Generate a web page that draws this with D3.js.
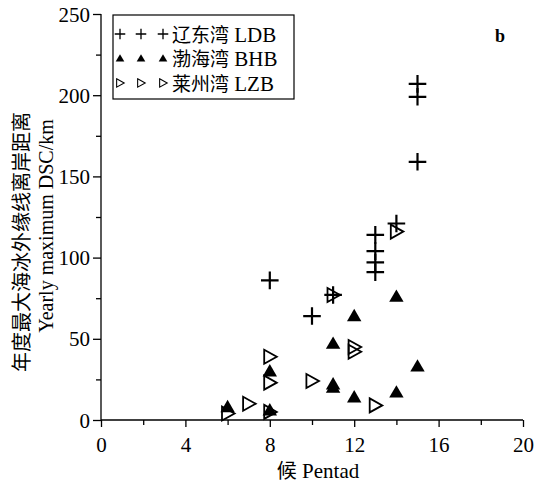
<!DOCTYPE html>
<html>
<head>
<meta charset="utf-8">
<script src="https://cdn.jsdelivr.net/npm/d3@7"></script>
<style>
  body { margin: 0; background: #fff; }
  svg text { font-family: "Liberation Serif", "Times New Roman", serif; fill: #000; }
  .cjk { font-family: "Noto Sans CJK SC", sans-serif; }
</style>
</head>
<body>
<div id="chart"></div>
<script>
const width = 546, height = 483;
const margin = { top: 14, right: 23, bottom: 63, left: 101 };

// pentad, yearly maximum DSC (km)
const ldbPoints = [
    [8, 86], [10, 64], [11, 77], [13, 114], [13, 104], [13, 97], [13, 91],
    [14, 121], [15, 207], [15, 199], [15, 159]
];
const bhbPoints = [
    [6, 8], [8, 30], [8, 6], [11, 47], [11, 22], [11, 20], [12, 64], [12, 14],
    [14, 76], [14, 17], [15, 33]
];
const lzbPoints = [
    [6, 4], [7, 10], [8, 39], [8, 23], [8, 5], [10, 24], [11, 77], [12, 45],
    [12, 42], [13, 9], [14, 116]
];
const xTicks = [0, 4, 8, 12, 16, 20];
const yTicks = [0, 50, 100, 150, 200, 250];
const legendLabels = ["辽东湾", "渤海湾", "莱州湾"];
const legendCodes = ["LDB", "BHB", "LZB"];

const svg = d3.select("#chart")
    .append("svg")
    .attr("width", width)
    .attr("height", height);

const xScale = d3.scaleLinear()
    .domain([0, 20])
    .range([margin.left, width - margin.right]);

const yScale = d3.scaleLinear()
    .domain([0, 250])
    .range([height - margin.bottom, margin.top]);

// axes: major ticks with labels, minor ticks between
const xAxis = svg.append("g")
    .attr("transform", `translate(0,${height - margin.bottom})`)
    .call(d3.axisBottom(xScale).tickValues(d3.range(0, 21, 2)).tickSize(5)
        .tickFormat(d => xTicks.includes(d) ? d : ""));

const yAxis = svg.append("g")
    .attr("transform", `translate(${margin.left},0)`)
    .call(d3.axisLeft(yScale).tickValues(d3.range(0, 251, 25)).tickSize(5)
        .tickFormat(d => yTicks.includes(d) ? d : ""));

[xAxis, yAxis].forEach(a => {
    a.select(".domain").attr("d", null);
    a.selectAll("line").attr("stroke", "#000").attr("stroke-width", 1.3);
    a.selectAll("text").style("font-size", "21px").attr("fill", "#000");
});
// major ticks a little longer than minor ones
xAxis.selectAll(".tick line").attr("y2", d => xTicks.includes(d) ? 7 : 5);
yAxis.selectAll(".tick line").attr("x2", d => yTicks.includes(d) ? -8 : -5);
xAxis.selectAll("text").attr("y", 13).attr("dy", "0.9em");
yAxis.selectAll("text").attr("x", -11).attr("dy", "0.34em");

svg.append("line")
    .attr("x1", margin.left).attr("x2", width - margin.right)
    .attr("y1", height - margin.bottom).attr("y2", height - margin.bottom)
    .attr("stroke", "#000").attr("stroke-width", 1.3);
svg.append("line")
    .attr("x1", margin.left).attr("x2", margin.left)
    .attr("y1", margin.top).attr("y2", height - margin.bottom)
    .attr("stroke", "#000").attr("stroke-width", 1.3);

// marker shapes
function crossPath(s) {
    return `M${-s},0H${s}M0,${-s}V${s}`;
}
function upTriangle(s) {
    return `M0,${-s}L${s},${s * 0.72}L${-s},${s * 0.72}Z`;
}
function rightTriangle(s) {
    return `M${-s * 0.8},${-s}L${s},0L${-s * 0.8},${s}Z`;
}

function drawMarker(g, type, x, y) {
    const m = g.append("path").attr("transform", `translate(${x},${y})`);
    if (type === "ldb") {
        m.attr("d", crossPath(8.8)).attr("stroke", "#000").attr("stroke-width", 2.2).attr("fill", "none");
    } else if (type === "bhb") {
        m.attr("d", upTriangle(7.2)).attr("fill", "#000");
    } else {
        m.attr("d", rightTriangle(7)).attr("stroke", "#000").attr("stroke-width", 1.8)
            .attr("fill", "none").attr("stroke-linejoin", "miter");
    }
}

const pts = svg.append("g");
lzbPoints.forEach(d => drawMarker(pts, "lzb", xScale(d[0]), yScale(d[1])));
bhbPoints.forEach(d => drawMarker(pts, "bhb", xScale(d[0]), yScale(d[1])));
ldbPoints.forEach(d => drawMarker(pts, "ldb", xScale(d[0]), yScale(d[1])));

// legend
const legend = svg.append("g");
legend.append("rect")
    .attr("x", 113).attr("y", 15).attr("width", 181).attr("height", 84)
    .attr("fill", "#fff").attr("stroke", "#000").attr("stroke-width", 1.2);
["ldb", "bhb", "lzb"].forEach((type, i) => {
    const y = 34 + i * 24.5;
    [120, 141, 163].forEach(x => {
        const g = legend.append("g").attr("transform", `translate(${x},${y}) scale(0.6)`);
        drawMarker(g, type, 0, 0);
    });
    const t = legend.append("text").attr("x", 172).attr("y", y).attr("dy", "0.36em")
        .style("font-size", "21px");
    t.append("tspan").attr("class", "cjk").style("font-size", "19px").text(legendLabels[i]);
    t.append("tspan").text(" " + legendCodes[i]);
});

// panel label
svg.append("text")
    .attr("x", 495).attr("y", 42)
    .style("font-size", "18px").style("font-weight", "bold")
    .text("b");

// axis titles
svg.append("text")
    .attr("x", 318)
    .attr("y", 478)
    .attr("text-anchor", "middle")
    .style("font-size", "21px")
    .call(t => {
        t.append("tspan").attr("class", "cjk").style("font-size", "20px").text("候");
        t.append("tspan").text(" Pentad");
    });

svg.append("text")
    .attr("transform", "translate(29,242) rotate(-90)")
    .attr("text-anchor", "middle")
    .attr("class", "cjk")
    .style("font-size", "20px")
    .text("年度最大海冰外缘线离岸距离");

svg.append("text")
    .attr("transform", "translate(53,226) rotate(-90)")
    .attr("text-anchor", "middle")
    .style("font-size", "20px")
    .text("Yearly maximum DSC/km");
</script>
</body>
</html>
